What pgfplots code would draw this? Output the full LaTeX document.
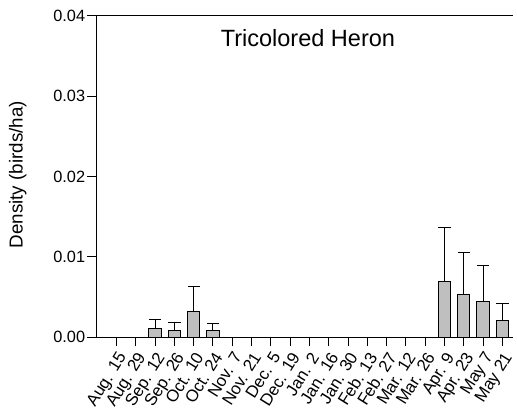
\documentclass[border=0pt]{standalone}
\usepackage{pgfplots}
\pgfplotsset{compat=1.18}
\usepackage{fontspec}
\setmainfont{Liberation Sans}
\begin{document}
\begin{tikzpicture}[x=1bp,y=1bp]
\begin{axis}[
  scale only axis,
  width=420bp, height=324bp,
  xmin=-1.05, xmax=20.55,
  ymin=0, ymax=0.04,
  axis x line*=bottom,
  axis y line*=left,
  axis line style={line width=1pt},
  tick align=outside,
  major tick length=9bp,
  tick style={line width=1pt, black},
  xtick={0,...,20},
  xticklabels={Aug. 15,Aug. 29,Sep. 12,Sep. 26,Oct. 10,Oct. 24,Nov. 7,Nov. 21,Dec. 5,Dec. 19,Jan. 2,Jan. 16,Jan. 30,Feb. 13,Feb. 27,Mar. 12,Mar. 26,Apr. 9,Apr. 23,May 7,May 21},
  xticklabel style={yshift=-3bp, rotate=58, anchor=north east, font=\fontsize{17}{17}\selectfont, inner sep=1bp},
  ytick={0,0.01,0.02,0.03,0.04},
  yticklabel style={/pgf/number format/fixed, /pgf/number format/fixed zerofill, /pgf/number format/precision=2, font=\fontsize{16.5}{16.5}\selectfont, inner sep=2bp},
  /pgf/number format/assume math mode=true,
  scaled y ticks=false,
  ylabel={Density (birds/ha)},
  every axis y label/.style={at={(rel axis cs:0,0.506)}, xshift=-79bp, rotate=90, anchor=center, font=\fontsize{19}{19}\selectfont},
  clip=false,
]
\addplot+[ybar, bar width=12.3bp, fill=black!25, draw=black, line width=1pt, mark=none,
  error bars/.cd, y dir=plus, y explicit,
  error bar style={line width=1pt, black},
  error mark options={rotate=90, mark size=6.2bp, line width=1pt, black}]
  table[x=x, y=y, y error=e] {
x y e
2 0.0011 0.0011
3 0.0009 0.0009
4 0.0032 0.0031
5 0.0009 0.0008
17 0.0069 0.0068
18 0.0053 0.0053
19 0.0045 0.0045
20 0.0021 0.0021
};
\draw[line width=1pt] ([xshift=-9bp]rel axis cs:0,1) -- (rel axis cs:1,1);
\node[font=\fontsize{23.8}{23.8}\selectfont, inner sep=0pt] at (rel axis cs:0.508,0.9306) {Tricolored Heron};
\end{axis}
\path[use as bounding box] ([xshift=-97bp,yshift=-68bp]current axis.south west) rectangle ([yshift=16bp]current axis.north east);
\end{tikzpicture}
\end{document}
